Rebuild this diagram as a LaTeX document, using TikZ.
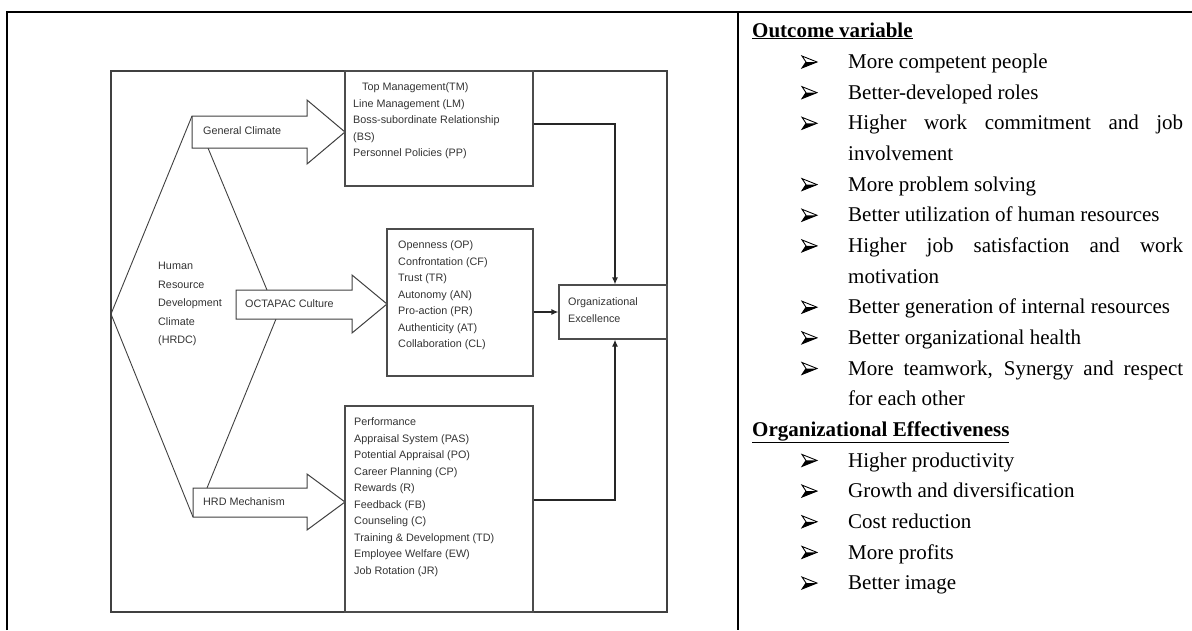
\documentclass[tikz,border=0pt]{standalone}
\usepackage{fontspec}
\setmainfont{Liberation Serif}
\newfontfamily\figfont{Liberation Sans}
\usetikzlibrary{arrows.meta}

\tikzset{
  rule/.style={line width=2.2pt},
  frame/.style={draw=black!75, line width=1.3pt},
  box/.style={draw=black!70, line width=1.2pt, inner sep=0pt},
  fatarrow/.style={draw=black!75, line width=1pt, fill=white},
  guide/.style={draw=black!75, line width=0.9pt},
  link/.style={draw=black!85, line width=1.2pt, -{Latex[length=7pt,width=6pt]}},
  figtext/.style={font=\figfont\fontsize{10.8}{16.5}\selectfont, text=black!80,
    align=left, inner sep=0pt, anchor=west},
  item/.style={font=\fontsize{21}{30.65}\selectfont, text width=335pt, align=justify,
    inner sep=0pt, anchor=north west, execute at begin node=\strut},
  head/.style={font=\fontsize{21}{30.65}\selectfont\bfseries, inner sep=0pt, anchor=base west},
  pics/arrowbullet/.style={code={
    \draw[line width=0.9pt, line join=miter] (-7.5,-6) -- (7.5,0) -- (-7.5,6) -- (-3.5,0) -- cycle;
    \fill (-3.5,0) -- (7.5,0) -- (-7.5,6) -- cycle;
  }}
}

\begin{document}
\begin{tikzpicture}[x=1pt,y=-1pt]
  \useasboundingbox (0,0) rectangle (1192,630);
  % Table rules
  \draw[rule] (7,630) -- (7,12) -- (1192,12);
  \draw[rule] (738,12) -- (738,630);

  % Figure frame
  \draw[frame] (111,71) rectangle (667,612);

  % HRDC lines
  \coordinate (apex) at (111,314);
  \draw[guide] (apex) -- (192,116) coordinate (gcnw);
  \draw[guide] (apex) -- (193,517) coordinate (hmsw);
  \draw[guide] (208,148) coordinate (gcs) -- (267,290) coordinate (ocn);
  \draw[guide] (276,319) coordinate (ocs) -- (207,488) coordinate (hmn);
  \node[figtext, font=\figfont\fontsize{10.8}{18.5}\selectfont] (hrdc) at (158,304)
    {Human\\Resource\\Development\\Climate\\(HRDC)};

  % Fat arrows
  \draw[fatarrow] (192,116) -- (307,116) -- (307,100) -- (345,132) -- (307,164)
    -- (307,148) -- (192,148) -- cycle;
  \node[figtext] (gc) at (203,131) {General Climate};
  \draw[fatarrow] (236,290) -- (352,290) -- (352,275) -- (387,304) -- (352,333)
    -- (352,319) -- (236,319) -- cycle;
  \node[figtext] (oc) at (245,304) {OCTAPAC Culture};
  \draw[fatarrow] (193,488) -- (307,488) -- (307,474) -- (345,502) -- (307,530)
    -- (307,517) -- (193,517) -- cycle;
  \node[figtext] (hm) at (203,502) {HRD Mechanism};

  % Boxes
  \node[box, minimum width=188, minimum height=115] (tm) at (439,128.5) {};
  \node[figtext] (tmtext) at (353,121)
    {\hspace*{9pt}Top Management(TM)\\Line Management (LM)\\Boss-subordinate Relationship\\(BS)\\Personnel Policies (PP)};
  \node[box, minimum width=146, minimum height=147] (oct) at (460,302.5) {};
  \node[figtext] (octtext) at (398,295.5)
    {Openness (OP)\\Confrontation (CF)\\Trust (TR)\\Autonomy (AN)\\Pro-action (PR)\\Authenticity (AT)\\Collaboration (CL)};
  \node[box, minimum width=108, minimum height=54] (org) at (613,312) {};
  \node[figtext] (orgtext) at (568,310) {Organizational\\Excellence};
  \node[box, minimum width=188, minimum height=206] (hrd) at (439,509) {};
  \node[figtext] (hrdtext) at (354,497)
    {Performance\\Appraisal System (PAS)\\Potential Appraisal (PO)\\Career Planning (CP)\\Rewards (R)\\Feedback (FB)\\Counseling (C)\\Training \& Development (TD)\\Employee Welfare (EW)\\Job Rotation (JR)};

  % Links
  \draw[link] ([yshift=4.5pt]tm.east) -| ([xshift=2pt]org.north);
  \draw[link] (oct.east |- org) -- (org.west);
  \draw[link] ([yshift=9pt]hrd.east) -| ([xshift=2pt]org.south);

  % Outcome lists
  \node[head] (outhead) at (752,37) {\underline{Outcome variable}};
  \node[head] (effhead) at (752,436.3) {\underline{Organizational Effectiveness}};
  \foreach \r/\txt in {0/More competent people, 1/Better-developed roles,
      2/{Higher work commitment and job\linebreak involvement},
      4/More problem solving, 5/Better utilization of human resources,
      6/{Higher job satisfaction and work\linebreak motivation},
      8/Better generation of internal resources, 9/Better organizational health,
      10/{More teamwork, Synergy and respect\linebreak for each other},
      13/Higher productivity, 14/Growth and diversification, 15/Cost reduction,
      16/More profits, 17/Better image}{
    \pic at (809.5,62+30.65*\r) {arrowbullet};
    \node[item] (item\r) at (848,47+30.65*\r) {\txt};
  }
\end{tikzpicture}
\end{document}
